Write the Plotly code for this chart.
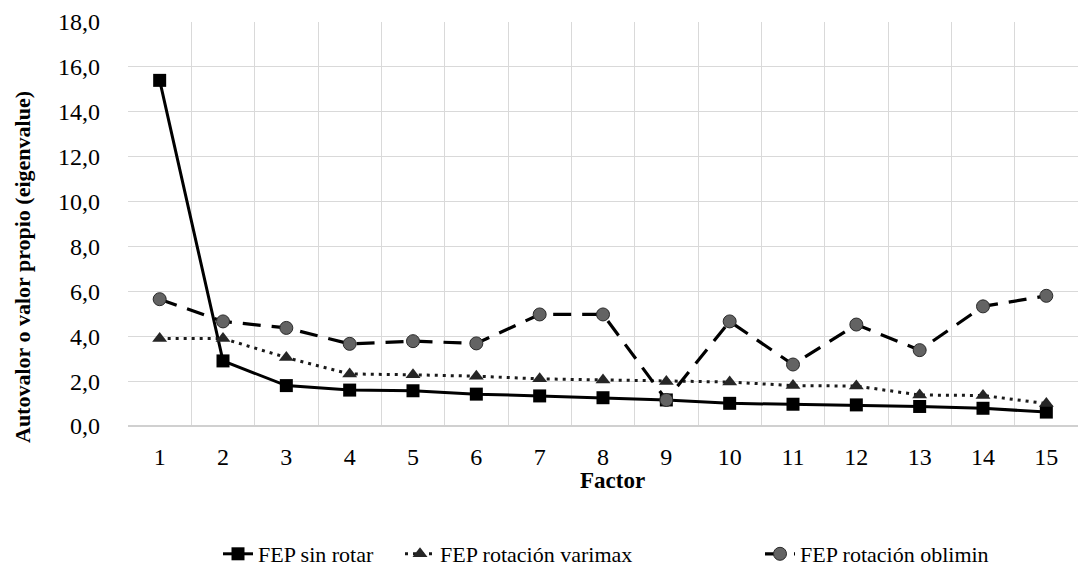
import plotly.graph_objects as go

factors = [str(i) for i in range(1, 16)]
sin_rotar = [15.4, 2.9, 1.8, 1.6, 1.57, 1.42, 1.34, 1.26, 1.16, 1.01, 0.97, 0.94, 0.87, 0.79, 0.62]
varimax = [3.9, 3.9, 3.05, 2.32, 2.28, 2.22, 2.1, 2.05, 1.98, 1.96, 1.8, 1.78, 1.38, 1.36, 1.0]
oblimin = [5.65, 4.66, 4.37, 3.66, 3.78, 3.68, 4.97, 4.97, 1.16, 4.66, 2.74, 4.52, 3.38, 5.33, 5.8]

FONT = "Liberation Serif"
FS = 24

W, H = 1088, 579
L, R, T, B = 128, 10, 22, 153
PW, PH = W - L - R, H - T - B


def px(x):
    return (x - L) / PW


def py(y):
    return (H - B - y) / PH


fig = go.Figure()
fig.add_trace(go.Scatter(
    x=factors, y=sin_rotar, name="FEP sin rotar", mode="lines+markers",
    line=dict(color="black", width=3),
    marker=dict(symbol="square", size=13, color="black"),
    legend="legend",
))
fig.add_trace(go.Scatter(
    x=factors, y=varimax, name="FEP rotación varimax", mode="lines+markers",
    line=dict(color="#1a1a1a", width=3, dash="3px,5px"),
    marker=dict(symbol="triangle-up", size=13, color="#262626"),
    legend="legend2",
))
fig.add_trace(go.Scatter(
    x=factors, y=oblimin, name="FEP rotación oblimin", mode="lines+markers",
    line=dict(color="black", width=3.2, dash="18px,11px"),
    marker=dict(symbol="circle", size=13, color="#636363", line=dict(color="#2a2a2a", width=1)),
    legend="legend3",
))

leg_common = dict(orientation="h", yanchor="middle", xanchor="left", y=py(554),
                  font=dict(family=FONT, size=22, color="black"), itemwidth=30,
                  bgcolor="rgba(0,0,0,0)")

fig.update_layout(
    width=W, height=H,
    margin=dict(l=L, r=R, t=T, b=B, autoexpand=False),
    paper_bgcolor="white", plot_bgcolor="white",
    separators=",.",
    font=dict(family=FONT, size=FS, color="black"),
    showlegend=True,
    legend=dict(x=px(258 - 40), **leg_common),
    legend2=dict(x=px(440 - 40), **leg_common),
    legend3=dict(x=px(800 - 40), **leg_common),
    xaxis=dict(
        type="category", tickson="boundaries", range=[-0.5, 14.5],
        showgrid=True, gridcolor="#d9d9d9", gridwidth=1.3,
        showline=False, zeroline=False, ticks="", ticklen=0, automargin=False,
        tickfont=dict(family=FONT, size=FS), ticklabelstandoff=14,
    ),
    yaxis=dict(
        range=[0, 18], dtick=2, tickformat=".1f", showgrid=True, gridcolor="#d9d9d9", gridwidth=1.3,
        zeroline=True, zerolinecolor="#d0d0d0", zerolinewidth=1.5, showline=False, automargin=False,
        tickfont=dict(family=FONT, size=FS), ticks="", ticklen=0, ticklabelstandoff=27,
    ),
    annotations=[
        dict(text="<b>Autovalor o valor propio (eigenvalue)</b>", textangle=-90,
             xref="paper", yref="paper", x=px(22), y=py(267), xanchor="center", yanchor="middle",
             showarrow=False, font=dict(family=FONT, size=22, color="black")),
        dict(text="<b>Factor</b>", xref="paper", yref="paper", x=px(612), y=py(480),
             xanchor="center", yanchor="middle", showarrow=False,
             font=dict(family=FONT, size=23, color="black")),
    ],
)

fig.write_html("out.html", config={"displayModeBar": False},
               post_script="document.body.style.margin='0';")
